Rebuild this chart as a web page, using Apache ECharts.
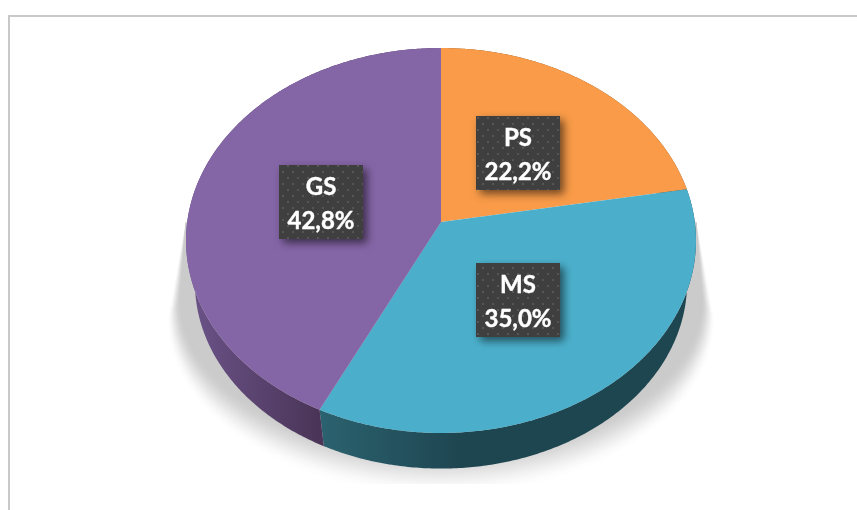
<!DOCTYPE html>
<html><head><meta charset="utf-8">
<style>html,body{margin:0;padding:0;background:#fff}#c{width:857px;height:510px}</style>
<script src="https://cdn.jsdelivr.net/npm/echarts@6/dist/echarts.min.js"></script>
</head><body><div id="c"></div>
<script>
const categories = ['PS', 'MS', 'GS'];
const shares = [22.2, 35.0, 42.8];
const topColors = ['#f99b48', '#4bafcb', '#8465a6'];
const wallColors = [['#7a4a20', '#7a4a20'], ['#2b626f', '#1e4651'], ['#4a3558', '#6b5388']];

const apex = [441, 222], A = 253.8, B = 190.7, K = 0.096;
const wallScale = 0.965, wallDrop = 43;
function proj(theta, r, wall) {
  const u = r * Math.sin(theta), v = r * Math.cos(theta), d = 1 + K * v;
  const s = wall ? wallScale : 1;
  return [apex[0] + s * A * u / d, apex[1] - s * B * v / d + (wall ? wallDrop : 0)];
}
function arc(a0, a1, wall) {
  const n = Math.max(2, Math.ceil((a1 - a0) / 0.01)), pts = [];
  for (let i = 0; i <= n; i++) pts.push(proj(a0 + (a1 - a0) * i / n, 1, wall));
  return pts;
}
const total = shares.reduce((a, b) => a + b, 0);
let run = 0;
const rows = categories.map((c, i) => {
  const row = [c, shares[i], run, run + shares[i]];
  run += shares[i];
  return row;
});
const ang = s => s / total * 2 * Math.PI;

const tile = document.createElement('canvas');
tile.width = 10; tile.height = 12;
const g = tile.getContext('2d');
g.fillStyle = '#3f3f3f'; g.fillRect(0, 0, 10, 12);
g.fillStyle = '#565656';
g.fillRect(2, 3, 2, 2); g.fillRect(7, 9, 2, 2);

// soft shadow: nested outlines, outermost and lightest first, sharing a sharp upper edge
function shadowLayers() {
  const N = 48, out = [];
  for (let i = 0; i < N; i++) {
    const t = 1 - i / (N - 1);                 // 1 = outer, 0 = inner
    const rx = 260 + t * 14, ry = 150 + t * 27, cy = 300 + t * 20;
    const e = 1 - t;
    const level = Math.round(255 - (255 - 203) * e * e * (3 - 2 * e));
    const pts = [[186, 222]];
    for (let j = 0; j <= 120; j++) {
      const a = j / 120 * Math.PI;
      pts.push([441 - rx * Math.cos(a), cy + ry * Math.sin(a)]);
    }
    pts.push([696, 222]);
    out.push({type: 'polygon', shape: {points: pts}, style: {fill: 'rgb(' + level + ',' + level + ',' + level + ')'}});
  }
  return out;
}

const chart = echarts.init(document.getElementById('c'), null, {renderer: 'canvas'});
chart.setOption({
  animation: false,
  backgroundColor: '#fff',
  series: [
    {
      type: 'custom', coordinateSystem: 'none', silent: true, data: [[0]], z: 1,
      renderItem() {
        return {type: 'group', children: shadowLayers().concat([
          {type: 'rect', shape: {x: 100, y: 484, width: 700, height: 26}, style: {fill: '#fff'}},
          {type: 'rect', shape: {x: 8, y: 15, width: 849, height: 2}, style: {fill: '#c8c8c8'}},
          {type: 'rect', shape: {x: 8, y: 15, width: 2, height: 495}, style: {fill: '#c8c8c8'}}
        ])};
      }
    },
    { // side walls
      type: 'custom', coordinateSystem: 'none', silent: true, data: rows, z: 2,
      renderItem(p, api) {
        const i = p.dataIndex;
        const a0 = ang(api.value(2)), a1 = ang(api.value(3));
        const top = arc(a0, a1, false), bot = arc(a0, a1, true).reverse();
        const seam = proj(ang(rows[1][3]), 1, false)[0];
        const x0 = i === 2 ? seam - 130 : seam, x1 = i === 2 ? seam : seam + 140;
        return {type: 'polygon', shape: {points: top.concat(bot)}, style: {
          fill: {type: 'linear', global: true, x: x0, y: 0, x2: x1, y2: 0,
                 colorStops: i === 2
                   ? [{offset: 0, color: wallColors[i][1]}, {offset: 1, color: wallColors[i][0]}]
                   : [{offset: 0, color: wallColors[i][0]}, {offset: 1, color: wallColors[i][1]}]}
        }};
      }
    },
    { // top faces
      type: 'custom', coordinateSystem: 'none', silent: true, data: rows, z: 3,
      renderItem(p, api) {
        const i = p.dataIndex;
        const pts = [proj(0, 0, false)].concat(arc(ang(api.value(2)), ang(api.value(3)), false));
        return {type: 'polygon', shape: {points: pts}, style: {fill: topColors[i]}};
      }
    },
    { // labels
      type: 'custom', coordinateSystem: 'none', silent: true, data: rows, z: 4,
      renderItem(p, api) {
        const mid = ang((api.value(2) + api.value(3)) / 2);
        const c = proj(mid, 0.49, false);
        const w = 84, h = 74;
        const txt = categories[p.dataIndex] + '\n' + api.value(1).toFixed(1).replace('.', ',') + '%';
        const bx = Math.floor(c[0] - w / 2), by = Math.ceil(c[1] - h / 2);
        return {type: 'group', children: [
          {type: 'rect', shape: {x: bx, y: by, width: w, height: h},
           style: {fill: {image: tile, repeat: 'repeat'}, shadowBlur: 8, shadowOffsetX: 4, shadowOffsetY: 4, shadowColor: 'rgba(0,0,0,0.55)'}},
          {type: 'text', x: bx + w / 2, y: by + h / 2 + 2, style: {
            text: txt, fill: '#fff', align: 'center', verticalAlign: 'middle',
            font: 'bold 24px Lato, "Open Sans", sans-serif', lineHeight: 34,
            stroke: '#fff', lineWidth: 0.4}}
        ]};
      }
    }
  ]
});
</script></body></html>
